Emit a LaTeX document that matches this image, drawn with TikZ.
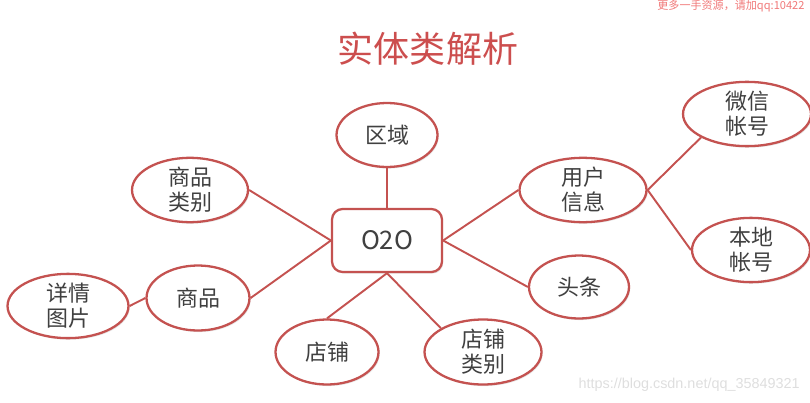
\documentclass[tikz,border=0pt]{standalone}
\usepackage{fontspec}
\setmainfont{Noto Sans CJK SC}
\newfontfamily\urlfont{Liberation Sans}
\usepackage{tikz}
\usetikzlibrary{shapes.geometric,shadows}
\definecolor{linered}{RGB}{196, 82, 80}
\definecolor{titlered}{RGB}{204, 78, 78}
\definecolor{txtgray}{RGB}{64, 64, 64}
\definecolor{markgray}{RGB}{222, 222, 222}
\definecolor{markred}{RGB}{240, 120, 120}

\begin{document}
\begin{tikzpicture}[x=0.02cm, y=-0.02cm,
    ent/.style={ellipse, draw=linered, line width=1.3pt, fill=white,
                inner sep=0pt, align=center, text=txtgray,
                font=\fontsize{12.5}{14.3}\selectfont,
                drop shadow={shadow xshift=0.7pt, shadow yshift=-0.9pt,
                             opacity=0.2, fill=gray}},
    hub/.style={rectangle, rounded corners=6pt, draw=linered,
                line width=1.3pt, fill=white, minimum width=2.2cm,
                minimum height=1.26cm, text=txtgray,
                font=\fontsize{14.5}{16}\selectfont,
                drop shadow={shadow xshift=0.7pt, shadow yshift=-0.9pt,
                             opacity=0.2, fill=gray}},
    lnk/.style={draw=linered, line width=1.1pt}]

    \clip (0,0) rectangle (810,402);

    % Titel
    \node[text=titlered, font=\fontsize{20.5}{22}\selectfont]
        (title) at (428,49) {实体类解析};

    % Mitte
    \node[hub] (o2o) at (387,240.5) {O2O};

    % Entitaeten
    \node[ent, minimum width=2.02cm, minimum height=1.28cm] (area)    at (387,135) {区域};
    \node[ent, minimum width=2.32cm, minimum height=1.28cm] (gcat)    at (190,190) {商品\\类别};
    \node[ent, minimum width=2.06cm, minimum height=1.30cm] (goods)   at (198,298) {商品};
    \node[ent, minimum width=2.42cm, minimum height=1.26cm] (detail)  at (68,306)  {详情\\图片};
    \node[ent, minimum width=2.06cm, minimum height=1.30cm] (shop)    at (327,352) {店铺};
    \node[ent, minimum width=2.34cm, minimum height=1.30cm] (scat)    at (483,352) {店铺\\类别};
    \node[ent, minimum width=2.00cm, minimum height=1.26cm] (news)    at (579,287) {头条};
    \node[ent, minimum width=2.54cm, minimum height=1.28cm] (user)    at (583,190) {用户\\信息};
    \node[ent, minimum width=2.56cm, minimum height=1.24cm] (wechat)  at (747,114) {微信\\帐号};
    \node[ent, minimum width=2.36cm, minimum height=1.24cm] (local)   at (751,250) {本地\\帐号};

    % Verbindungen
    \draw[lnk] (o2o.north) -- (area.south);
    \draw[lnk] (o2o.west)  -- (gcat.east);
    \draw[lnk] (o2o.west)  -- (goods.east);
    \draw[lnk] (goods.west) -- (detail.east);
    \draw[lnk] (o2o.south) -- (shop.north);
    \draw[lnk] (o2o.south) -- (scat.north west);
    \draw[lnk] (o2o.east)  -- (news.west);
    \draw[lnk] (o2o.east)  -- (user.west);
    \draw[lnk] (user.east) -- (wechat.south west);
    \draw[lnk] (user.east) -- (local.west);

    % Wasserzeichen
    \node[anchor=base west, text=markred, inner sep=0pt,
          font=\fontsize{6.3}{7}\selectfont] (mark) at (657,10)
        {更多一手资源，请加qq:10422};
    \node[anchor=east, text=markgray, inner sep=0pt,
          font=\urlfont\fontsize{8.2}{9}\selectfont] (url) at (800,385)
        {https://blog.csdn.net/qq\_35849321};

\end{tikzpicture}
\end{document}
